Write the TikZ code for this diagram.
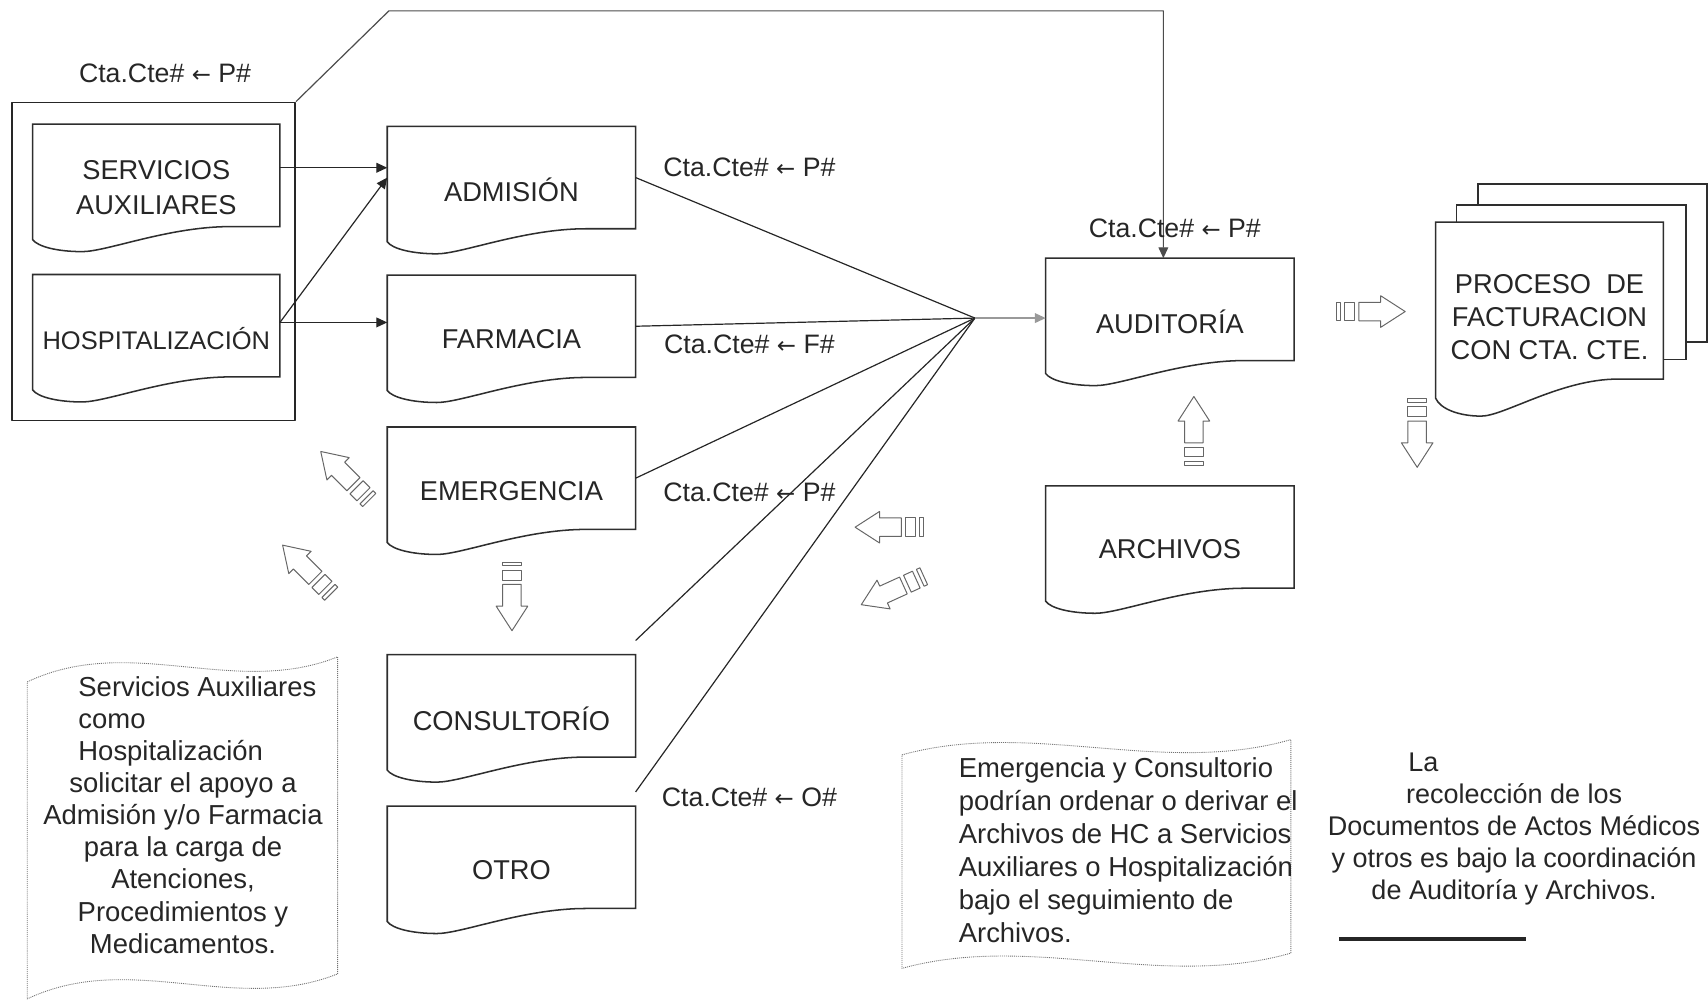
\documentclass[tikz,border=0pt]{standalone}
\usepackage{fontspec}
\setmainfont{Liberation Sans}
\newfontfamily\arrowfam{DejaVu Sans}
\newcommand{\ctaarrow}{{\arrowfam\fontsize{21}{21}\selectfont ←}}
\usetikzlibrary{calc,arrows.meta,backgrounds}
\begin{document}
\begin{tikzpicture}[x=1pt,y=-1pt,line join=round,
  docline/.style={draw=black!82,line width=1.4pt,fill=white},
  doctext/.style={font=\fontsize{25}{32}\selectfont,align=center,text=black!85,inner sep=0pt},
  doc/.style={minimum width=228pt,minimum height=94pt,inner sep=0pt,outer sep=0pt,
    label={[doctext,yshift=-11.5pt]center:{#1}}},
  conn/.style={draw=black!85,line width=1.1pt},
  tip/.style={-{Triangle[length=10pt,width=9pt]}},
  cta/.style={font=\fontsize{24.5}{28}\selectfont,text=black!85,inner sep=0pt},
  notetext/.style={font=\fontsize{25.2}{29.5}\selectfont,text=black!85,inner sep=0pt},
  noteline/.style={draw=black!55,line width=0.8pt,dash pattern=on 0.9pt off 0.9pt},
  hollow/.style={draw=black!60,line width=0.9pt,fill=white},
  sarrow/.pic={
    \draw[hollow] (0,-8.5) rectangle (3.5,8.5);
    \draw[hollow] (7.5,-8.5) rectangle (16.5,8.5);
    \draw[hollow] (20.5,-8.5) -- (40.5,-8.5) -- (40.5,-14.5) -- (63,0)
      -- (40.5,14.5) -- (40.5,8.5) -- (20.5,8.5) -- cycle;
  }]
\useasboundingbox (0,0) rectangle (1568,919);

% outer frame of the two auxiliary services
\node[draw=black!85,line width=1.4pt,minimum width=260pt,minimum height=292pt,inner sep=0pt]
  (outer) at (141,240) {};
\node[cta] (lbl0) at (151.5,67) {Cta.Cte\# \ctaarrow\ P\#};

% document boxes
\node[doc={SERVICIOS\\AUXILIARES},minimum width=227pt] (sa)   at (143.5,161) {};
\node[minimum width=227pt,minimum height=94pt,inner sep=0pt,outer sep=0pt,
  label={[doctext,yshift=-11.5pt,font=\fontsize{23.4}{30}\selectfont]center:{HOSPITALIZACIÓN}}]
  (hosp) at (143.5,299) {};
\node[doc={ADMISIÓN}]    (adm)  at (469.5,163) {};
\node[doc={FARMACIA}]    (farm) at (469.5,299.5) {};
\node[doc={EMERGENCIA}]  (emer) at (469.5,439) {};
\node[doc={CONSULTORÍO}] (cons) at (469.5,648) {};
\node[doc={OTRO}]        (otro) at (469.5,787) {};
\node[doc={AUDITORÍA}]   (aud)  at (1074,284) {};
\node[doc={ARCHIVOS}]    (arch) at (1074,493) {};
\node[minimum width=209pt,minimum height=144pt,inner sep=0pt,outer sep=0pt,
  label={[doctext,yshift=-15pt,font=\fontsize{25}{30}\selectfont]center:{PROCESO\ \ DE\\FACTURACION\\CON CTA. CTE.}}]
  (proc) at (1422.5,276) {};

% outlines with the wavy lower edge
\begin{scope}[on background layer]
  \draw[docline] (1357,169) rectangle (1567,314);
  \draw[docline] (1337,188) rectangle (1548,330);
  \foreach \n/\d in {sa/23,hosp/23,adm/23,farm/23,emer/23,cons/23,otro/23,aud/23,arch/23,proc/34}{
    \draw[docline] (\n.south east) -- (\n.north east) -- (\n.north west)
      -- ($(\n.south west)+(0,{0.52*\d})$)
      .. controls ($(\n.south west)!0.02!(\n.south east)+(0,{0.8*\d})$)
              and ($(\n.south west)!0.1!(\n.south east)+(0,\d)$)
      .. ($(\n.south west)!0.2!(\n.south east)+(0,\d)$)
      .. controls ($(\n.south west)!0.3!(\n.south east)+(0,\d)$)
              and ($(\n.south west)!0.55!(\n.south east)$)
      .. ($(\n.south west)!0.8!(\n.south east)$)
      -- cycle;
  }
\end{scope}

% connectors from the auxiliary services
\coordinate (saout) at ([yshift=7pt]sa.east);
\coordinate (hout) at ([yshift=3pt]hosp.east);
\draw[conn,tip] (saout) -- (saout -| adm.west);
\draw[conn,tip] (hout) -- (hout -| farm.west);
\draw[conn,tip] (hout) -- (adm.west);

% top link to the audit
\coordinate (topc) at (357,10);
\draw[conn,draw=black!70,tip] (outer.north east) -- (topc) -| ([xshift=-6pt]aud.north);

% fan of charges into the audit
\coordinate (hub) at (895,292);
\draw[conn] (adm.east) -- (hub);
\draw[conn] (farm.east) -- (hub);
\draw[conn] (emer.east) -- (hub);
\draw[conn] ([yshift=13pt]cons.north east) -- (hub);
\draw[conn] ([yshift=13pt]otro.north east) -- (hub);
\draw[conn,draw=black!40,tip] (hub) -- (hub -| aud.west);

\node[cta] (lbl1) at (688,154) {Cta.Cte\# \ctaarrow\ P\#};
\node[cta] (lbl2) at (688,316) {Cta.Cte\# \ctaarrow\ F\#};
\node[cta] (lbl3) at (688,452) {Cta.Cte\# \ctaarrow\ P\#};
\node[cta] (lbl4) at (688,732) {Cta.Cte\# \ctaarrow\ O\#};
\node[cta] (lbl5) at (1078.5,210) {Cta.Cte\# \ctaarrow\ P\#};

% hollow striped arrows
\pic at (1227,286) {sarrow};
\pic[rotate=-90] at (1301,366) {sarrow};
\pic[rotate=90] at (1096,427) {sarrow};
\pic[rotate=180] at (848,484) {sarrow};
\pic[rotate=204.5] at (848,529) {sarrow};
\pic[rotate=-90] at (470,516) {sarrow};
\pic[rotate=135] at (339,459) {sarrow};
\pic[rotate=135] at (304,545) {sarrow};

% notes
\draw[noteline] (25,626) .. controls (120,581) and (215,641) .. (310,603)
  -- (310,894) .. controls (215,932) and (120,872) .. (25,917) -- cycle;
\node[notetext,align=center] (note1) at (168,748)
  {\makebox[192pt][l]{Servicios Auxiliares}\\\makebox[192pt][l]{como}\\
   \makebox[192pt][l]{Hospitalización}\\solicitar el apoyo a\\Admisión y/o Farmacia\\
   para la carga de\\Atenciones,\\Procedimientos y\\Medicamentos.};

\draw[noteline] (828,693) .. controls (947,660) and (1066,713) .. (1185,679)
  -- (1185,875) .. controls (1066,909) and (947,856) .. (828,889) -- cycle;
\node[notetext,align=left,anchor=west,font=\fontsize{25.2}{30.2}\selectfont] (note2) at (880,780.5)
  {Emergencia y Consultorio\\podrían ordenar o derivar el\\Archivos de HC a Servicios\\
   Auxiliares o Hospitalización\\bajo el seguimiento de\\Archivos.};

\node[notetext,align=center,font=\fontsize{24.8}{29.5}\selectfont] (note3) at (1390,761)
  {\makebox[194pt][l]{La}\\recolección de los\\Documentos de Actos Médicos\\
   y otros es bajo la coordinación\\de Auditoría y Archivos.};
\draw[line width=3pt,black!85] (1229,862) -- (1401,862);
\end{tikzpicture}
\end{document}
